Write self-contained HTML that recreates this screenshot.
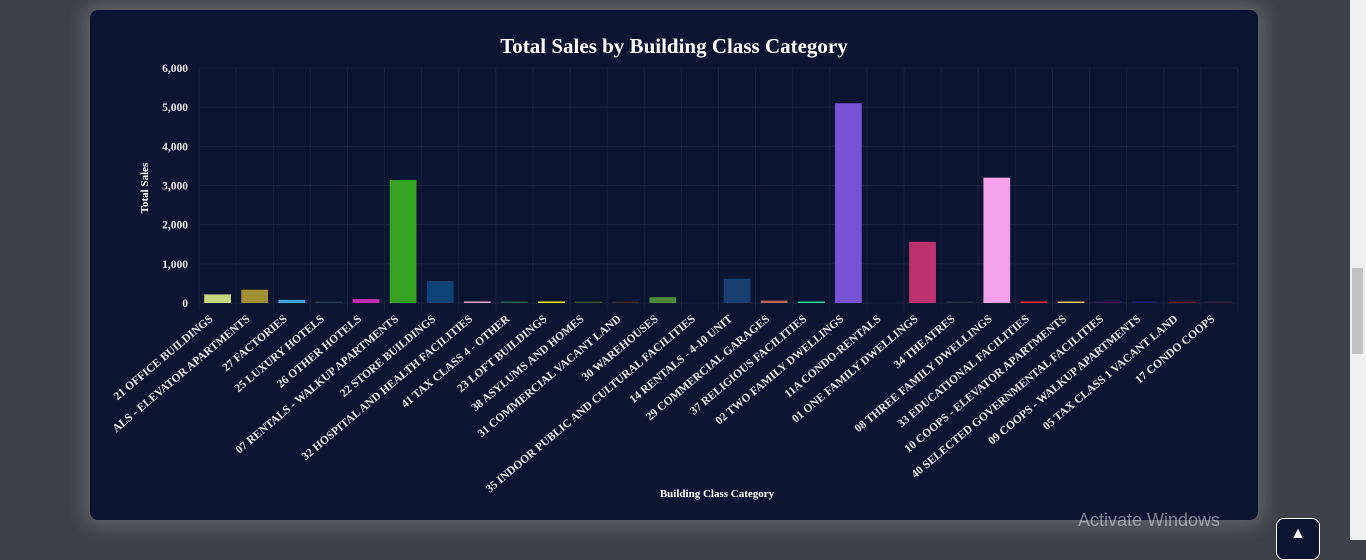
<!DOCTYPE html>
<html><head><meta charset="utf-8"><style>
html,body{margin:0;padding:0;width:1366px;height:540px;overflow:hidden;background:#3e4248;font-family:"Liberation Serif",serif;}
#card{position:absolute;left:90px;top:10px;width:1168px;height:510px;background:#0b1430;border-radius:8px;box-shadow:0 0 18px 6px rgba(200,200,200,0.25);}
#sb{position:absolute;left:1350px;top:0;width:16px;height:540px;background:#f0f0f0;}
#thumb{position:absolute;left:1352px;top:268px;width:11px;height:86px;background:#c1c1c1;}
#aw{position:absolute;left:1078px;top:510px;color:rgba(255,255,255,0.45);font-family:"Liberation Sans",sans-serif;font-size:18px;}
#up{position:absolute;left:1276px;top:518px;width:42px;height:40px;border-radius:8px;background:#0b1430;border:1px solid #fff;color:#fff;text-align:center;font-size:16px;line-height:30px;}
</style></head><body>
<div id="card">
<svg id="chart" width="1168" height="510"></svg>
</div>
<div id="sb"></div>
<div id="thumb"></div>
<div id="aw">Activate Windows</div>
<div id="up">▲</div>
<script>
const categories=["21 OFFICE BUILDINGS","ALS - ELEVATOR APARTMENTS","27 FACTORIES","25 LUXURY HOTELS","26 OTHER HOTELS","07 RENTALS - WALKUP APARTMENTS","22 STORE BUILDINGS","32 HOSPITAL AND HEALTH FACILITIES","41 TAX CLASS 4 - OTHER","23 LOFT BUILDINGS","38 ASYLUMS AND HOMES","31 COMMERCIAL VACANT LAND","30 WAREHOUSES","35 INDOOR PUBLIC AND CULTURAL FACILITIES","14 RENTALS - 4-10 UNIT","29 COMMERCIAL GARAGES","37 RELIGIOUS FACILITIES","02 TWO FAMILY DWELLINGS","11A CONDO-RENTALS","01 ONE FAMILY DWELLINGS","34 THEATRES","08 THREE FAMILY DWELLINGS","33 EDUCATIONAL FACILITIES","10 COOPS - ELEVATOR APARTMENTS","40 SELECTED GOVERNMENTAL FACILITIES","09 COOPS - WALKUP APARTMENTS","05 TAX CLASS 1 VACANT LAND","17 CONDO COOPS"];
const sales=[220,340,80,5,100,3140,560,40,5,20,15,5,150,0,620,60,30,5100,0,1560,5,3200,40,25,8,3,5,3];
const colors=["#c5d67f","#a08f33","#3aa6e0","#1e3a4a","#c42cb6","#37a324","#0b4377","#f1a3c6","#166050","#f2f200","#37551f","#3a2730","#4b8a3b","#0b1430","#183f6f","#c1615c","#1ed79a","#7852d4","#0b1430","#bb326f","#20303a","#f2a3ec","#e52530","#e2c862","#3b1a5a","#1c2060","#5a1f2f","#2a2030"];
const yTicks=[0,1000,2000,3000,4000,5000,6000];
const NS="http://www.w3.org/2000/svg";
const svg=document.getElementById('chart');
const L=109,R=1148,T=58,B=293,YMAX=6000;
const band=(R-L)/categories.length;
const x=i=>L+band*i;
const y=v=>B-(v/YMAX)*(B-T);
function mk(tag,attrs,parent){const e=document.createElementNS(NS,tag);for(const k in attrs)e.setAttribute(k,attrs[k]);(parent||svg).appendChild(e);return e;}
const title=mk('text',{x:584,y:43,'text-anchor':'middle',fill:'#fff','font-size':'21','font-weight':'bold','font-family':'Liberation Serif, serif'});
title.textContent='Total Sales by Building Class Category';


yTicks.forEach(t=>{
 const g=mk('line',{x1:L,x2:R,y1:y(t),y2:y(t),stroke:'#18213d','stroke-width':1});
 
 
 const lb=mk('text',{x:L-11,y:y(t)+4,'text-anchor':'end',fill:'#e8e8e8','font-size':'11.5','font-weight':'bold'});
 lb.textContent=t.toLocaleString('en-US');
 
 
});
for(let i=0;i<=categories.length;i++){
 const g=mk('line',{x1:x(i),x2:x(i),y1:T,y2:B+8,stroke:'#18213d','stroke-width':1});
 
 
}
categories.forEach((c,i)=>{
 const bw=band*0.72,cx=x(i)+band/2;
 const h=Math.max(B-y(sales[i]),sales[i]>0?1.5:0);
 const r=mk('rect',{x:cx-bw/2,y:B-h,width:bw,height:h,fill:colors[i]});
 
 
 const t=mk('text',{transform:`translate(${cx-4},${B+17}) rotate(-40)`,'text-anchor':'end',fill:'#e6e6e6','font-size':'11.5','font-weight':'bold'});
 t.textContent=c;
 
 
});
const yt=mk('text',{transform:'translate(58,178) rotate(-90)','text-anchor':'middle',fill:'#fff','font-size':'11','font-weight':'bold'});
yt.textContent='Total Sales';


const xt=mk('text',{x:627,y:487,'text-anchor':'middle',fill:'#fff','font-size':'11','font-weight':'bold'});
xt.textContent='Building Class Category';


</script>
</body></html>
